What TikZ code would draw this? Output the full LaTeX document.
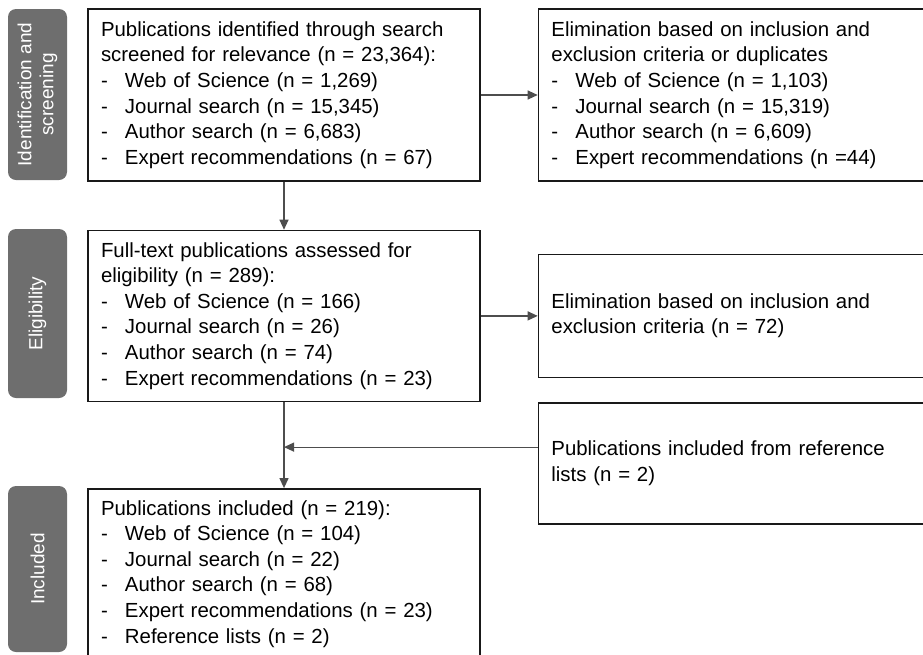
\documentclass[tikz,border=0pt]{standalone}
\usepackage{fontspec}
\setmainfont{Liberation Sans}
\usepackage{xcolor}
\usepackage{tikz}
\usetikzlibrary{arrows.meta, positioning}

\definecolor{stagegray}{HTML}{6E6E6E}
\definecolor{linegray}{HTML}{4D4D4D}
\newcommand{\itm}[1]{\makebox[24pt][l]{-}#1}

\begin{document}
\begin{tikzpicture}[x=1pt, y=-1pt,
        box/.style={draw=black!90, line width=1.4pt, align=left, inner xsep=13pt, inner ysep=0pt,
            font=\fontsize{20.4}{25.6}\selectfont},
        wide/.style={box, text width=377pt},
        narrow/.style={box, text width=366pt},
        stage/.style={fill=stagegray, rounded corners=8pt, rotate=90, minimum height=59pt,
            text=white, align=center, font=\fontsize{19}{22}\selectfont},
        flow/.style={draw=linegray, line width=1.2pt, -{Triangle[length=10pt, width=9pt]}}]
        \useasboundingbox (0,0) rectangle (923,654);

        % stages
        \node[stage, minimum width=171pt] (idstage) at (37.5,94.5) {Identification and\\screening};
        \node[stage, minimum width=169pt] (elstage) at (37.5,313.5) {Eligibility};
        \node[stage, minimum width=166pt] (instage) at (37.5,569) {Included};

        % main column
        \node[narrow, minimum height=172pt] (ident) at (284,95) {Publications identified through search\\
            screened for relevance (n = 23,364):\\
            \itm{Web of Science (n = 1,269)}\\
            \itm{Journal search (n = 15,345)}\\
            \itm{Author search (n = 6,683)}\\
            \itm{Expert recommendations (n = 67)}};
        \node[narrow, minimum height=171pt] (full) [below=48pt of ident] {Full-text publications assessed for\\
            eligibility (n = 289):\\
            \itm{Web of Science (n = 166)}\\
            \itm{Journal search (n = 26)}\\
            \itm{Author search (n = 74)}\\
            \itm{Expert recommendations (n = 23)}};
        \node[narrow, minimum height=170pt] (incl) [below=86pt of full] {Publications included (n = 219):\\
            \itm{Web of Science (n = 104)}\\
            \itm{Journal search (n = 22)}\\
            \itm{Author search (n = 68)}\\
            \itm{Expert recommendations (n = 23)}\\
            \itm{Reference lists (n = 2)}};

        % side column
        \node[wide, minimum height=172pt] (elimA) [right=57pt of ident] {Elimination based on inclusion and\\
            exclusion criteria or duplicates\\
            \itm{Web of Science (n = 1,103)}\\
            \itm{Journal search (n = 15,319)}\\
            \itm{Author search (n = 6,609)}\\
            \itm{Expert recommendations (n =44)}};
        \node[wide, minimum height=123pt] (elimB) [right=57pt of full] {Elimination based on inclusion and\\
            exclusion criteria (n = 72)};
        \node[wide, minimum height=121pt] (refs) [below=24pt of elimB] {Publications included from reference\\
            lists (n = 2)};

        \path (full.south) ++(0,45) coordinate (merge);

        \draw[flow] (ident) -- (elimA);
        \draw[flow] (ident) -- (full);
        \draw[flow] (full.east) -- (full.east -| elimB.west);
        \draw[flow] (full) -- (incl);
        \draw[flow] (refs.west |- merge) -- (merge);
    \end{tikzpicture}
\end{document}
